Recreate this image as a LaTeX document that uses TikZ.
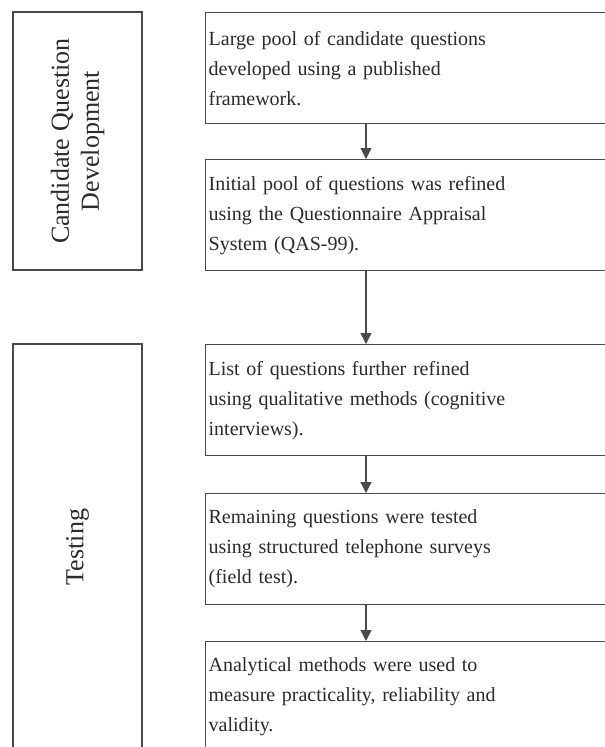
\documentclass[tikz,border=0pt]{standalone}
\usepackage{fontspec}
\setmainfont{Liberation Serif}
\usetikzlibrary{arrows.meta}
\definecolor{linegray}{HTML}{4A4A4A}
\definecolor{inkgray}{HTML}{2B2B2B}

\begin{document}
\begin{tikzpicture}[x=1pt,y=1pt,
	stage/.style={draw=linegray,line width=1.3pt,text=inkgray,font=\fontsize{20}{30}\selectfont,align=left,text width=420pt,inner xsep=3pt,minimum height=111pt,anchor=north west},
	phase/.style={draw=linegray,line width=1.3pt,text=inkgray,font=\fontsize{26}{30}\selectfont,align=center,rotate=90,minimum height=129pt},
	flow/.style={draw=linegray,line width=1.3pt,-{Triangle[length=11pt,width=11pt]}}]
	\useasboundingbox (0,0) rectangle (605,-747);
	\clip (0,0) rectangle (605,-747);
	\fill[white] (0,0) rectangle (605,-747);
	% phases on the left
	\node[phase,minimum width=258pt] (cand) at (77.5,-141) {Candidate Question\\Development};
	\node[phase,minimum width=406pt] (test) at (77.5,-547) {Testing};
	% steps on the right
	\node[stage] (pool) at (205,-12) {Large pool of candidate questions\\developed using a published\\framework.};
	\node[stage] (qas) at (205,-159) {Initial pool of questions was refined\\using the Questionnaire Appraisal\\System (QAS-99).};
	\node[stage] (cogn) at (205,-344) {List of questions further refined\\using qualitative methods (cognitive\\interviews).};
	\node[stage] (field) at (205,-493) {Remaining questions were tested\\using structured telephone surveys\\(field test).};
	\node[stage] (anal) at (205,-641) {Analytical methods were used to\\measure practicality, reliability and\\validity.};
	\draw[flow] ([xshift=161pt]pool.south west) -- ([xshift=161pt]qas.north west);
	\draw[flow] ([xshift=161pt]qas.south west) -- ([xshift=161pt]cogn.north west);
	\draw[flow] ([xshift=161pt]cogn.south west) -- ([xshift=161pt]field.north west);
	\draw[flow] ([xshift=161pt]field.south west) -- ([xshift=161pt]anal.north west);
\end{tikzpicture}
\end{document}
